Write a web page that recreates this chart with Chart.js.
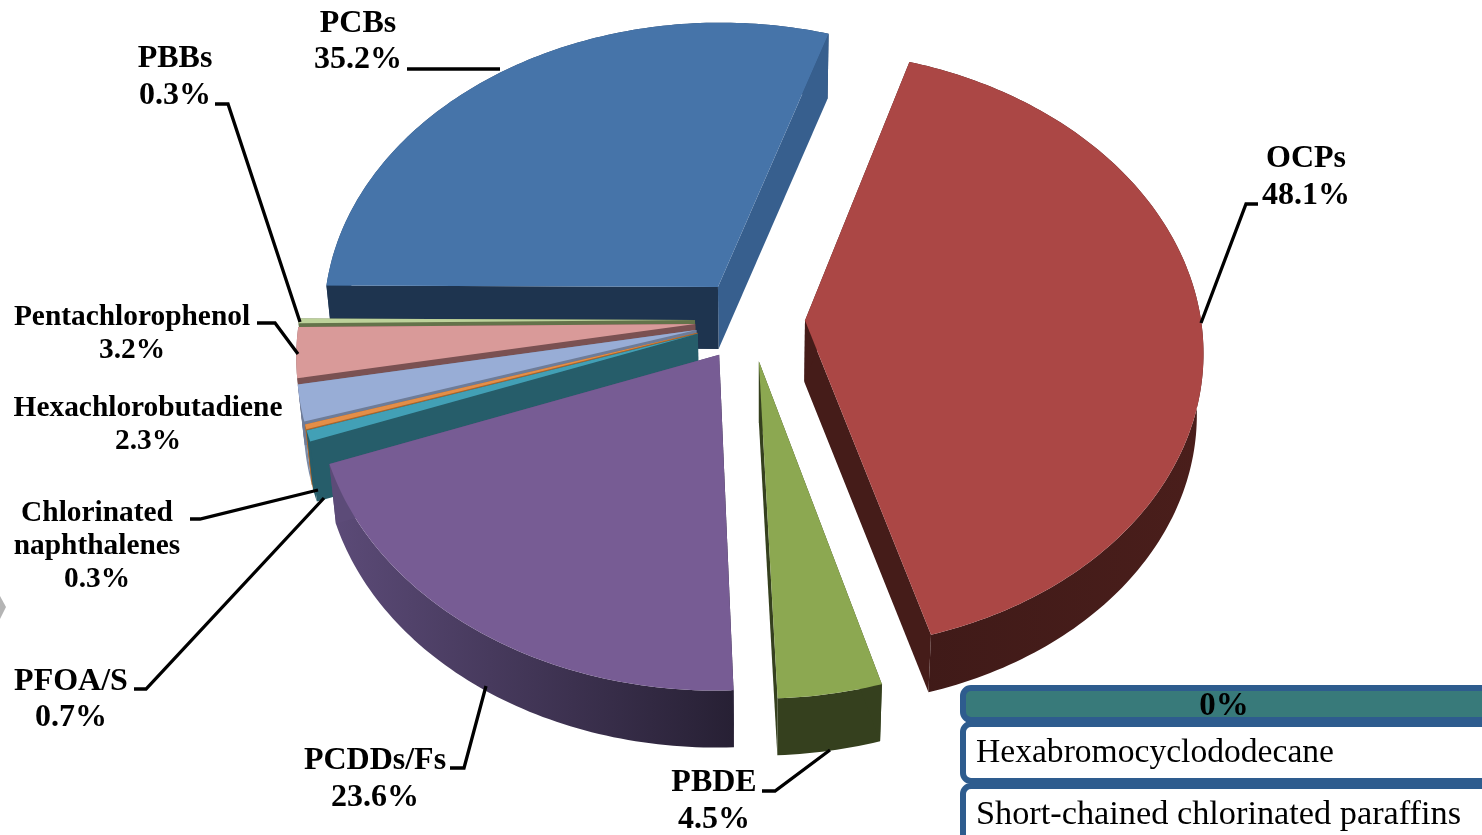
<!DOCTYPE html>
<html>
<head>
<meta charset="utf-8">
<style>html,body{margin:0;padding:0;background:#fff;overflow:hidden}canvas{display:block}</style>
<script src="https://cdn.jsdelivr.net/npm/chart.js@4/dist/chart.umd.min.js"></script>
</head>
<body>
<canvas id="c" width="1482" height="835"></canvas>
<script>
const categories = ["PCBs","OCPs","PBDE","PCDDs/Fs","PFOA/S","Chlorinated naphthalenes","Hexachlorobutadiene","Pentachlorophenol","PBBs","Hexabromocyclododecane","Short-chained chlorinated paraffins"];
const values = [35.2,48.1,4.5,23.6,0.7,0.3,2.3,3.2,0.3,0,0];
const topColors = ["#4674A9","#AB4745","#8CA851","#775C94","#42A0B6","#E48E47","#98ADD6","#D99A99","#BDD29A","#387A7A","#387A7A"];
const startFaceColors = ["#1E344F","#451C19","#35401E","#2A2238","#265D6A","#A8652C","#6E7C98","#7A5152","#64734A","#333","#333"];
const endFaceColors = ["#375F8E","#451C19","#35401E","#5C4B78","#265D6A","#A8652C","#6E7C98","#7A5152","#64734A","#333","#333"];
const wallStart = ["#2B4A70","#4A1E1B","#35401E","#5C4B78","#265D6A","#C07A38","#7A8BA8","#8A5F5F","#7A8A5A","#333","#333"];
const wallEnd = ["#2B4A70","#3F1A18","#35401E","#272034","#265D6A","#C07A38","#7A8BA8","#8A5F5F","#7A8A5A","#333","#333"];
const paintOrder = [0,8,7,6,5,4,3,2,1];

const labelSpecs = [
 {lines:["PCBs"],i:0,x:358,ys:[32,68],size:32},
 {lines:["PBBs"],i:8,x:175,ys:[67,104],size:32},
 {lines:["OCPs"],i:1,x:1306,ys:[167,204],size:32},
 {lines:["Pentachlorophenol"],i:7,x:132,ys:[325,358],size:29.4},
 {lines:["Hexachlorobutadiene"],i:6,x:148,ys:[416,449],size:29.4},
 {lines:["Chlorinated","naphthalenes"],i:5,x:97,ys:[521,554,587],size:29.4},
 {lines:["PFOA/S"],i:4,x:71,ys:[690,726],size:32},
 {lines:["PCDDs/Fs"],i:3,x:375,ys:[769,806],size:32},
 {lines:["PBDE"],i:2,x:714,ys:[791,828],size:32}
];
const leaders = [
 [[407,69],[500,69]],
 [[215,104],[228,104],[300,322]],
 [[1258,204],[1246,204],[1201,323]],
 [[257,323],[275,323],[298,354]],
 [[190,519],[200,519],[318,490]],
 [[134,689],[146,689],[324,498]],
 [[450,768],[464,768],[486,686]],
 [[762,791],[775,791],[830,750]]
];

const PERSP = 0.097, TILT = 0.748;
const VANISH_X = 760, BASE_SHRINK = 0.985;

function project(arc, a, r, off, mid){
  const R = arc.outerRadius;
  const px = Math.cos(a)*r + Math.cos(mid)*off;
  const py = Math.sin(a)*r + Math.sin(mid)*off;
  const w = 1 - PERSP*py/R;
  return {x: arc.x + px/w, y: arc.y + TILT*py/w};
}
function base(p){
  return {x: VANISH_X + (p.x-VANISH_X)*BASE_SHRINK, y: p.y + 65 - (p.y-30)*8/660};
}
function poly(ctx, pts, fill){
  ctx.beginPath();
  pts.forEach((p,i)=> i ? ctx.lineTo(p.x,p.y) : ctx.moveTo(p.x,p.y));
  ctx.closePath();
  ctx.fillStyle = fill;
  ctx.fill();
}
function roundBox(ctx,x,y,w,h,r,fill,stroke){
  ctx.beginPath();
  ctx.roundRect(x,y,w,h,r);
  ctx.fillStyle = fill; ctx.fill();
  ctx.lineWidth = 6; ctx.strokeStyle = stroke; ctx.stroke();
}

const pie3d = {
  id:'pie3d',
  beforeDatasetsDraw(chart){
    const ctx = chart.ctx;
    const arcs = chart.getDatasetMeta(0).data;
    ctx.save();
    paintOrder.forEach(i=>{
      const arc = arcs[i];
      if(!arc || arc.circumference===0) return;
      const a0 = arc.startAngle, a1 = arc.endAngle, mid=(a0+a1)/2;
      const off = arc.options.offset, R = arc.outerRadius;
      const steps = Math.max(2, Math.ceil((a1-a0)/(Math.PI/180)));
      const rim = [];
      for(let s=0;s<=steps;s++) rim.push(project(arc,a0+(a1-a0)*s/steps,R,off,mid));
      const apex = project(arc,mid,0,off,mid);
      const rimB = rim.map(base), apexB = base(apex);
      const xs = rim.map(p=>p.x);
      const g = ctx.createLinearGradient(Math.min(...xs),0,Math.max(...xs),0);
      g.addColorStop(0, i===3 ? wallStart[i] : wallEnd[i]);
      g.addColorStop(1, i===3 ? wallEnd[i] : wallStart[i]);
      poly(ctx, rim.concat(rimB.slice().reverse()), g);
      poly(ctx, [apex, rim[steps], rimB[steps], apexB], endFaceColors[i]);
      poly(ctx, [apex, rim[0], rimB[0], apexB], startFaceColors[i]);
      poly(ctx, [apex].concat(rim), arc.options.backgroundColor);
    });
    ctx.restore();
    return false;
  },
  afterDraw(chart){
    const ctx = chart.ctx;
    const ds = chart.data.datasets[0].data;
    ctx.save();
    ctx.fillStyle = '#B4B4B4';
    ctx.beginPath(); ctx.moveTo(0,596); ctx.lineTo(6,607); ctx.lineTo(0,619); ctx.closePath(); ctx.fill();

    ctx.strokeStyle='#000'; ctx.lineWidth=3.3; ctx.lineJoin='miter';
    leaders.forEach(l=>{
      ctx.beginPath();
      l.forEach((p,i)=> i?ctx.lineTo(p[0],p[1]):ctx.moveTo(p[0],p[1]));
      ctx.stroke();
    });

    ctx.fillStyle='#000'; ctx.textAlign='center'; ctx.textBaseline='alphabetic';
    labelSpecs.forEach(s=>{
      ctx.font = `bold ${s.size}px "Liberation Serif"`;
      const text = s.lines.concat([ds[s.i].toFixed(1)+'%']);
      text.forEach((t,k)=>ctx.fillText(t,s.x,s.ys[k]));
    });

    const B='#2E5C8E';
    roundBox(ctx,963,688,560,32,8,'#387A7A',B);
    roundBox(ctx,963,724,560,57,8,'#FFFFFF',B);
    roundBox(ctx,963,786,560,80,8,'#FFFFFF',B);
    ctx.fillStyle='#000';
    ctx.font='bold 33px "Liberation Serif"';
    ctx.fillText(ds[9]+'%',1224,715);
    ctx.textAlign='left';
    ctx.font='33.6px "Liberation Serif"';
    ctx.fillText(categories[9],976,762);
    ctx.font='34.3px "Liberation Serif"';
    ctx.fillText(categories[10],976,824);
    ctx.restore();
  }
};

new Chart(document.getElementById('c'),{
  type:'pie',
  data:{labels:categories,datasets:[{data:values,backgroundColor:topColors,borderWidth:0,offset:55,radius:396}]},
  options:{
    responsive:false,animation:false,rotation:-89.7,
    layout:{padding:{left:18,bottom:195}},
    plugins:{legend:{display:false},tooltip:{enabled:false},title:{display:false}}
  },
  plugins:[pie3d]
});
</script>
</body>
</html>
